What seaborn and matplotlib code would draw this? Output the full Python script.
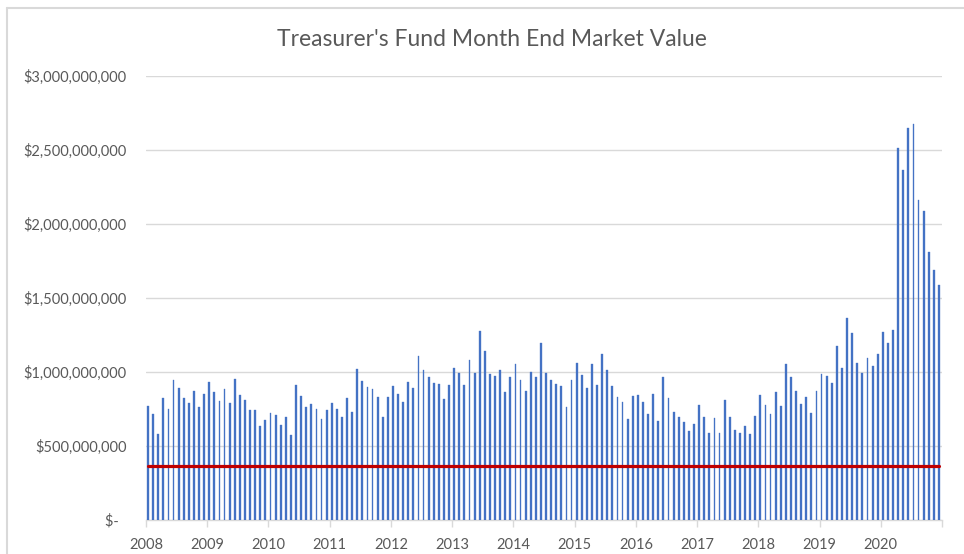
import numpy as np
import pandas as pd
import matplotlib
matplotlib.use("Agg")
import matplotlib.pyplot as plt
from matplotlib.lines import Line2D
import seaborn as sns

# Month-end market value, millions of dollars, Jan 2008 - Dec 2020
years = list(range(2008, 2021))
market_value_musd = [
    770, 716, 580, 825, 752, 948, 895, 825, 793, 870, 764, 852,      # 2008
    934, 864, 805, 882, 791, 955, 845, 811, 743, 743, 634, 675,      # 2009
    720, 709, 639, 693, 573, 911, 839, 764, 786, 750, 680, 745,      # 2010
    791, 750, 698, 825, 727, 1023, 941, 898, 882, 834, 698, 830,     # 2011
    907, 852, 798, 934, 893, 1107, 1014, 964, 923, 918, 818, 911,    # 2012
    1030, 995, 911, 1084, 995, 1280, 1139, 989, 970, 1014, 864, 964, # 2013
    1052, 948, 870, 1002, 966, 1198, 993, 948, 918, 907, 764, 948,   # 2014
    1059, 982, 889, 1052, 911, 1125, 1014, 907, 834, 798, 682, 839,  # 2015
    843, 798, 716, 850, 668, 966, 823, 732, 693, 659, 598, 650,      # 2016
    775, 698, 591, 686, 591, 811, 698, 607, 591, 634, 580, 702,      # 2017
    845, 775, 716, 864, 770, 1055, 966, 875, 786, 834, 723, 870,     # 2018
    989, 970, 927, 1173, 1027, 1368, 1264, 1059, 993, 1095, 1041, 1122,  # 2019
    1268, 1196, 1282, 2511, 2365, 2649, 2678, 2162, 2086, 1813, 1689, 1586,  # 2020
]
minimum_balance_musd = 365

y_tick_values = [0, 500, 1000, 1500, 2000, 2500, 3000]
y_tick_labels = ["$-  ", "$500,000,000", "$1,000,000,000", "$1,500,000,000",
                 "$2,000,000,000", "$2,500,000,000", "$3,000,000,000"]

df = pd.DataFrame({
    "month": np.arange(len(market_value_musd)),
    "value": np.array(market_value_musd, dtype=float) * 1e6,
})
df["minimum"] = minimum_balance_musd * 1e6

sns.set_theme(style="white")
plt.rcParams["font.family"] = ["Lato", "DejaVu Sans"]

TEXT = "#595959"
GRID = "#d9d9d9"
BLUE = "#4472C4"

fig = plt.figure(figsize=(9.64, 5.54), dpi=100)
ax = fig.add_axes([146 / 964, 34 / 554, 796 / 964, 444 / 554])

sns.barplot(data=df, x="month", y="value", native_scale=True, width=0.36,
            color=BLUE, saturation=1, edgecolor=BLUE, linewidth=0.25,
            ax=ax, zorder=2)
sns.lineplot(data=df, x="month", y="minimum", color="#C00000", linewidth=2.3,
             ax=ax, zorder=3)

ax.set_ylim(0, 3e9)
ax.set_xlim(-0.4, 155.6)
ax.set_yticks([v * 1e6 for v in y_tick_values])
ax.set_yticklabels(y_tick_labels)
ax.set_xticks([12 * k - 0.4 for k in range(len(years) + 1)])
ax.set_xticklabels([str(y) for y in years] + [""])
ax.set_xlabel("")
ax.set_ylabel("")

ax.yaxis.grid(True, color=GRID, linewidth=1)
ax.xaxis.grid(False)
ax.set_axisbelow(True)
for side in ("top", "right", "left"):
    ax.spines[side].set_visible(False)
ax.spines["bottom"].set_color(GRID)
ax.spines["bottom"].set_linewidth(1)
ax.spines["bottom"].set_zorder(1)

ax.tick_params(axis="y", length=0, pad=14, labelsize=10.5, labelcolor=TEXT)
ax.tick_params(axis="x", direction="out", length=5, width=1, color=GRID,
               pad=8, labelsize=10.5, labelcolor=TEXT, bottom=True)

fig.text(492 / 964, 1 - 40 / 554, "Treasurer's Fund Month End Market Value",
         ha="center", va="center", fontsize=16.5, color=TEXT)

# chart-area border along the top and left edges
fig.add_artist(Line2D([7 / 964, 7 / 964], [0, 1 - 8 / 554], color=GRID,
                      linewidth=1.5, transform=fig.transFigure))
fig.add_artist(Line2D([7 / 964, 1], [1 - 8 / 554, 1 - 8 / 554], color=GRID,
                      linewidth=1.5, transform=fig.transFigure))

fig.savefig("out.png", dpi=100)
